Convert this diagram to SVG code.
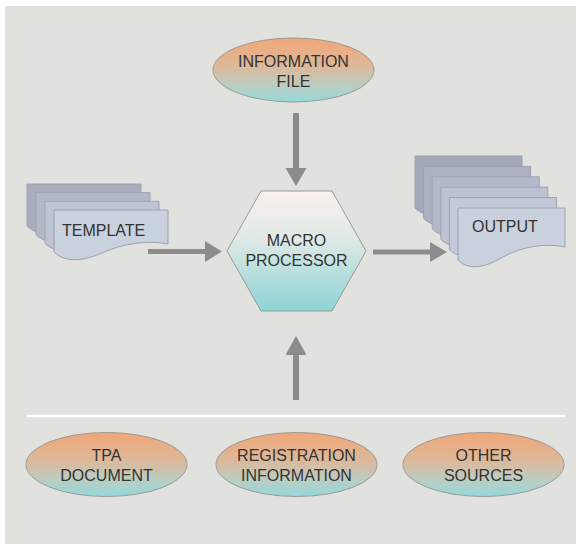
<svg xmlns="http://www.w3.org/2000/svg" width="576" height="544" viewBox="0 0 576 544">
  <defs>
    <linearGradient id="ovalGrad" x1="0" y1="0" x2="0" y2="1">
      <stop offset="0" stop-color="#f2a677"/>
      <stop offset="0.45" stop-color="#dcb99b"/>
      <stop offset="0.75" stop-color="#b9cec3"/>
      <stop offset="1" stop-color="#95d8db"/>
    </linearGradient>
    <linearGradient id="hexGrad" x1="0" y1="0" x2="0" y2="1">
      <stop offset="0" stop-color="#fbf1ed"/>
      <stop offset="0.4" stop-color="#dfe9e5"/>
      <stop offset="1" stop-color="#8dd4d6"/>
    </linearGradient>
    <path id="tplPage" d="M0,0 H114 V34 C95,30 70,33 48,43 C32,50 12,54 0,42 Z"/>
    <path id="outPage" d="M0,0 H107 V39 C88,35 65,38 45,49 C30,58 12,64 0,52 Z"/>
  </defs>
  <style>
    .oval { fill: url(#ovalGrad); stroke: #9a9a9a; stroke-width: 1; }
    .hex { fill: url(#hexGrad); stroke: #9a9a9a; stroke-width: 1; }
    .page { stroke: #9ea2b0; stroke-width: 1; }
    .arrow { fill: #8c8c8c; }
    text { font-family: "Liberation Sans", Arial, sans-serif; font-size: 16px; fill: #333333; }
    .c { text-anchor: middle; }
  </style>

  <rect x="5" y="6" width="571" height="538" fill="#e1e1dd"/>
  <line x1="27" y1="416" x2="565" y2="416" stroke="#ffffff" stroke-width="2.5"/>

  <g id="connectors">
    <polygon class="arrow" points="293,113 299,113 299,168 306.5,168 296,186 285.5,168 293,168"/>
    <polygon class="arrow" points="148,249 205,249 205,241 222,251.5 205,262 205,254 148,254"/>
    <polygon class="arrow" points="373,249.5 430,249.5 430,242 447,252 430,262 430,254.5 373,254.5"/>
    <polygon class="arrow" points="293,400 299,400 299,355 306.5,355 296,336 285.5,355 293,355"/>
  </g>

  <g id="information-file">
    <ellipse class="oval" cx="293.5" cy="70" rx="80.5" ry="32"/>
    <text class="c" x="293.5" y="67">INFORMATION</text>
    <text class="c" x="293.5" y="87">FILE</text>
  </g>

  <g id="template">
    <use href="#tplPage" x="27" y="184" class="page" fill="#a9aebe"/>
    <use href="#tplPage" x="36" y="192.7" class="page" fill="#b4b9c9"/>
    <use href="#tplPage" x="45" y="201.3" class="page" fill="#bec4d3"/>
    <use href="#tplPage" x="54" y="210" class="page" fill="#c9d0de"/>
    <text x="62" y="236">TEMPLATE</text>
  </g>

  <g id="macro-processor">
    <polygon class="hex" points="261,191 332,191 366,251 332,311 261,311 227,251"/>
    <text class="c" x="296.5" y="246">MACRO</text>
    <text class="c" x="296.5" y="266">PROCESSOR</text>
  </g>

  <g id="output">
    <use href="#outPage" x="415" y="156" class="page" fill="#a4a9b9"/>
    <use href="#outPage" x="423.6" y="166.4" class="page" fill="#acb1c1"/>
    <use href="#outPage" x="432.2" y="176.8" class="page" fill="#b4b9c9"/>
    <use href="#outPage" x="440.8" y="187.2" class="page" fill="#bcc2d1"/>
    <use href="#outPage" x="449.4" y="197.6" class="page" fill="#c3c9d8"/>
    <use href="#outPage" x="458" y="208" class="page" fill="#c9d0de"/>
    <text x="472" y="232">OUTPUT</text>
  </g>

  <g id="tpa-document">
    <ellipse class="oval" cx="106.5" cy="464.5" rx="80.5" ry="32"/>
    <text class="c" x="106.5" y="461">TPA</text>
    <text class="c" x="106.5" y="481">DOCUMENT</text>
  </g>

  <g id="registration-information">
    <ellipse class="oval" cx="296.5" cy="464.5" rx="80.5" ry="32"/>
    <text class="c" x="296.5" y="461">REGISTRATION</text>
    <text class="c" x="296.5" y="481">INFORMATION</text>
  </g>

  <g id="other-sources">
    <ellipse class="oval" cx="483.5" cy="464.5" rx="80.5" ry="32"/>
    <text class="c" x="483.5" y="461">OTHER</text>
    <text class="c" x="483.5" y="481">SOURCES</text>
  </g>
</svg>
